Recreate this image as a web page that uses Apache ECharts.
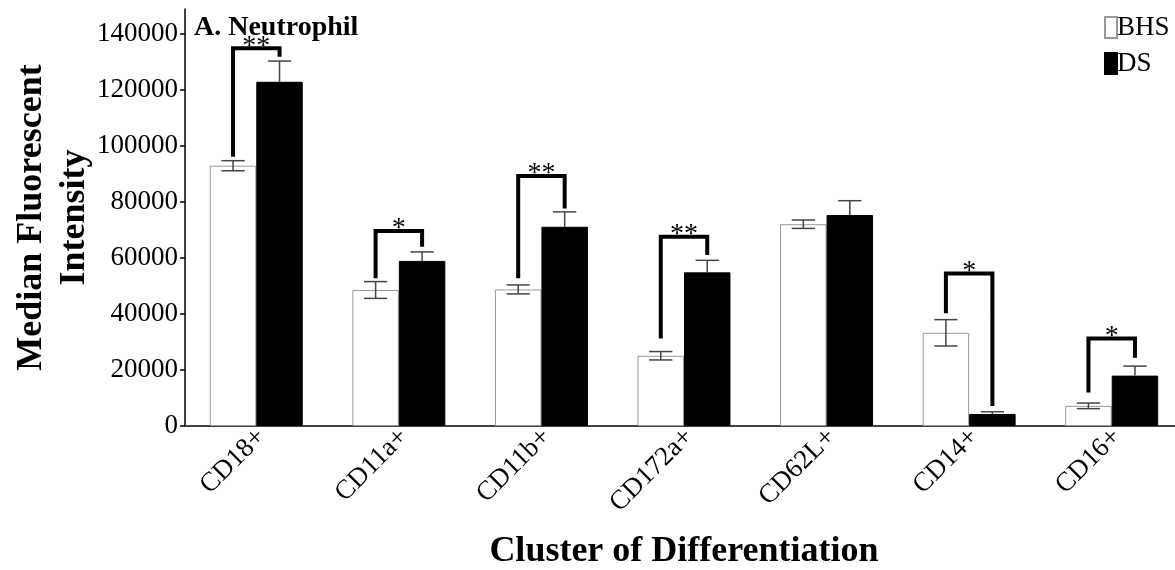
<!DOCTYPE html>
<html><head><meta charset="utf-8">
<script src="https://cdn.jsdelivr.net/npm/echarts@6/dist/echarts.min.js"></script>
<style>html,body{margin:0;padding:0;background:#fff}#chart{width:1175px;height:570px}</style>
</head><body><div id="chart"></div>
<script>
const categories = ['CD18+', 'CD11a+', 'CD11b+', 'CD172a+', 'CD62L+', 'CD14+', 'CD16+'];
const bhsValues = [93000, 48600, 48800, 25100, 72100, 33300, 7200];
const bhsErrors = [1800, 3000, 1600, 1500, 1500, 4700, 1000];
const dsValues = [123000, 59000, 71200, 54900, 75400, 4300, 18000];
const dsErrors = [7400, 3200, 5300, 4300, 5100, 800, 3400];
const yTicks = [0, 20000, 40000, 60000, 80000, 100000, 120000, 140000];
const sigCategories = [0, 1, 2, 3, 5, 6];
const sigLeft = [96200, 52750, 52750, 31300, 40250, 12000];
const sigTop = [135000, 69640, 89290, 67600, 54500, 31300];
const sigRight = [131900, 64040, 77750, 61070, 7140, 24400];
const sigLabels = ['**', '*', '**', '**', '*', '*'];

const BAR_FRAC = 0.326;
const serif = '"Liberation Serif", "Times New Roman", serif';

function errRender(side, both) {
  return function (params, api) {
    const ci = api.value(0), v = api.value(1), e = api.value(2);
    const band = api.size([1, 0])[0];
    const bw = band * BAR_FRAC;
    const c = api.coord([ci, v]);
    const x = c[0] + side * bw / 2;
    const top = api.coord([ci, v + e])[1];
    const bot = both ? api.coord([ci, v - e])[1] : c[1];
    const cap = bw * 0.25;
    const style = { stroke: '#444', lineWidth: 1.5, fill: null };
    const children = [
      { type: 'line', shape: { x1: x, y1: top, x2: x, y2: bot }, style: style },
      { type: 'line', shape: { x1: x - cap, y1: top, x2: x + cap, y2: top }, style: style }
    ];
    if (both) children.push({ type: 'line', shape: { x1: x - cap, y1: bot, x2: x + cap, y2: bot }, style: style });
    return { type: 'group', children: children };
  };
}

const bhsErrData = categories.map((c, i) => [i, bhsValues[i], bhsErrors[i]]);
const dsErrData = categories.map((c, i) => [i, dsValues[i], dsErrors[i]]);
const sigData = sigCategories.map((c, i) => [c, sigLeft[i], sigTop[i], sigRight[i]]);

const chart = echarts.init(document.getElementById('chart'));
chart.setOption({
  animation: false,
  backgroundColor: '#fff',
  title: {
    text: 'A. Neutrophil', left: 194, top: 14, padding: 0,
    textStyle: { fontFamily: serif, fontWeight: 'bold', fontSize: 28, color: '#000' }
  },
  legend: {
    data: ['BHS', 'DS'], orient: 'vertical', left: 1104, top: 14, padding: 0,
    itemWidth: 12, itemHeight: 21, itemGap: 9, icon: 'rect',
    textStyle: { fontFamily: serif, fontSize: 27, color: '#000', lineHeight: 27, padding: [0, 0, 0, -5] }
  },
  grid: { left: 185, top: 9, width: 998, height: 417, containLabel: false, outerBoundsMode: 'none' },
  xAxis: {
    type: 'category', data: categories,
    axisLine: { lineStyle: { color: '#444', width: 2 } },
    axisTick: { show: false },
    axisLabel: { rotate: 45, interval: 0, fontFamily: serif, fontSize: 27, color: '#000', margin: 12, padding: [0, -7, 0, 0] },
    name: 'Cluster of Differentiation', nameLocation: 'middle', nameGap: 108, nameMoveOverlap: false,
    nameTextStyle: { fontFamily: serif, fontWeight: 'bold', fontSize: 36, color: '#000' }
  },
  yAxis: {
    type: 'value', min: 0, max: 149000, interval: 20000,
    name: 'Median Fluorescent\nIntensity', nameLocation: 'middle', nameGap: 89, nameRotate: 90, nameMoveOverlap: false,
    nameTextStyle: { fontFamily: serif, fontWeight: 'bold', fontSize: 36, color: '#000', lineHeight: 43 },
    axisLine: { show: true, lineStyle: { color: '#000', width: 1.5 } },
    axisTick: { show: true, length: 5, lineStyle: { color: '#000', width: 1.5 }, customValues: yTicks },
    axisLabel: { fontFamily: serif, fontSize: 27, color: '#000', margin: 7, customValues: yTicks,
      formatter: function (v) { return String(v); } },
    splitLine: { show: false }
  },
  series: [
    {
      name: 'BHS', type: 'bar', data: bhsValues, barWidth: (BAR_FRAC * 100) + '%', barGap: '0%',
      itemStyle: { color: '#fff', borderColor: '#999', borderWidth: 1 }
    },
    {
      name: 'DS', type: 'bar', data: dsValues, barWidth: (BAR_FRAC * 100) + '%', barGap: '0%',
      itemStyle: { color: '#000', borderColor: '#000', borderWidth: 1 }
    },
    { type: 'custom', name: 'bhsErr', data: bhsErrData, encode: { x: 0, y: 1 }, renderItem: errRender(-1, true), z: 5, silent: true },
    { type: 'custom', name: 'dsErr', data: dsErrData, encode: { x: 0, y: 1 }, renderItem: errRender(1, false), z: 5, silent: true },
    {
      type: 'custom', name: 'sig', data: sigData, encode: { x: 0, y: 2 }, z: 6, silent: true,
      renderItem: function (params, api) {
        const ci = api.value(0);
        const band = api.size([1, 0])[0];
        const bw = band * BAR_FRAC;
        const cx = api.coord([ci, 0])[0];
        const xl = cx - bw / 2, xr = cx + bw / 2;
        const yl = api.coord([ci, api.value(1)])[1];
        const yt = api.coord([ci, api.value(2)])[1];
        const yr = api.coord([ci, api.value(3)])[1];
        return {
          type: 'group', children: [
            { type: 'polyline', shape: { points: [[xl, yl], [xl, yt], [xr, yt], [xr, yr]] },
              style: { stroke: '#000', lineWidth: 4, fill: null, lineJoin: 'miter' } },
            { type: 'text', x: cx, y: yt - 2,
              style: { text: sigLabels[params.dataIndex], fontFamily: serif, fontSize: 28, fill: '#000', align: 'center', verticalAlign: 'middle' } }
          ]
        };
      }
    }
  ]
});
</script>
</body></html>
